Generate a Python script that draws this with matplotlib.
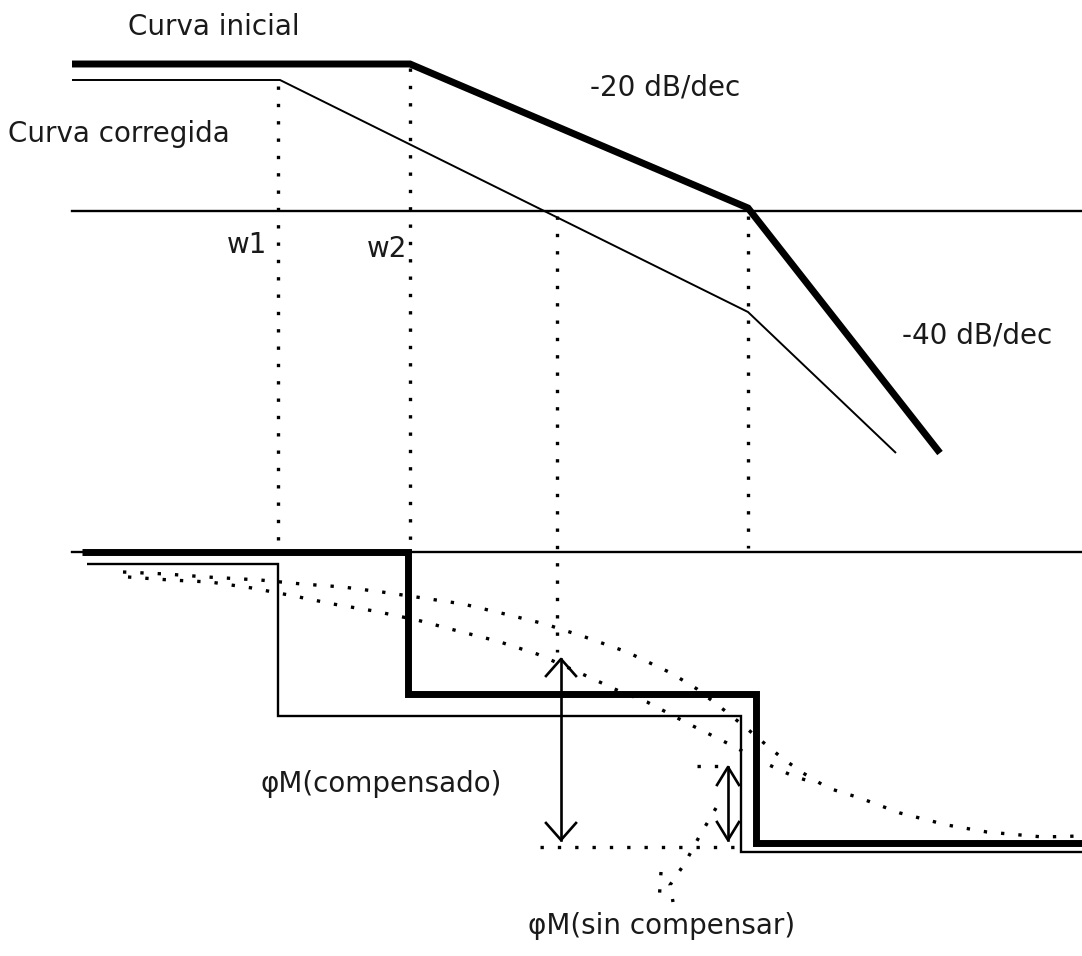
import matplotlib
matplotlib.use("Agg")
import matplotlib.pyplot as plt

# ---- diagram data (schematic coordinates: x to the right, y downward) ----
# Magnitude plot
mag_initial_x = [72, 410, 748, 940]
mag_initial_y = [64, 64, 208, 453]
mag_corrected_x = [72, 280, 748, 896]
mag_corrected_y = [80, 80, 312, 453]
zero_db_y = 211
x_left, x_right = 72, 1082

# frequency markers (dotted verticals): x, y_top, y_bottom
markers_x = [278, 410, 557, 748]
markers_top = [86, 68, 216, 216]
markers_bottom = [545, 548, 652, 548]

# Phase plot (asymptotic step curves)
phase_ref_y = 552
phase_initial_x = [82, 408, 408, 756, 756, 1082]
phase_initial_y = [552, 552, 694, 694, 843, 843]
phase_corrected_x = [87, 278, 278, 741, 741, 1082]
phase_corrected_y = [564, 564, 716, 716, 852, 852]

# Real phase curves (dotted)
phase_real_a_x = [123, 166, 207, 260, 302, 343, 382, 423, 463, 505, 545, 585,
                  627, 671, 697, 724, 745, 764, 782, 803, 828, 860, 900, 947,
                  987, 1043, 1080]
phase_real_a_y = [572, 574, 577, 580, 584, 587, 592, 598, 604, 614, 624, 637,
                  652, 673, 689, 710, 727, 743, 758, 773, 788, 798, 813, 825,
                  832, 837, 836]
phase_real_b_x = [128, 170, 210, 252, 294, 333, 374, 417, 458, 497, 537, 560,
                  591, 619, 647, 687, 727, 767, 793, 812]
phase_real_b_y = [577, 580, 582, 588, 596, 604, 611, 620, 631, 641, 654, 664,
                  678, 691, 702, 723, 743, 764, 776, 782]
phase_tail_x = [716, 699, 685, 670, 673]
phase_tail_y = [808, 837, 863, 885, 902]
phase_tail2_x = [661, 659]
phase_tail2_y = [872, 902]

# -180 reference (dotted) and marks
ref180_x = [540, 740]
ref180_y = 847
small_ref_x = [697, 722]
small_ref_y = 766

# margin arrows: x, y_top, y_bottom, half-width of head, head height
arrows_x = [561, 728]
arrows_top = [659, 767]
arrows_bottom = [840, 840]
arrows_hw = [15, 11]
arrows_hh = [17, 18]

labels = [
    ("Curva inicial", 128, 35),
    ("Curva corregida", 8, 142),
    ("-20 dB/dec", 590, 95),
    ("-40 dB/dec", 902, 343),
    ("w1", 227, 253),
    ("w2", 367, 257),
    ("\u03c6M(compensado)", 260, 792),
    ("\u03c6M(sin compensar)", 528, 934),
]

W, H = 1082, 956
fig = plt.figure(figsize=(W / 100, H / 100), dpi=100)
ax = fig.add_axes([0, 0, 1, 1])
ax.set_xlim(0, W)
ax.set_ylim(H, 0)
ax.axis("off")

thick = 5.0
thin = 1.7
thin_mag = 1.4
dot = dict(color="black", lw=2.4, linestyle=(0, (1, 4.2)),
           dash_capstyle="butt")

# magnitude
ax.plot([x_left, x_right], [zero_db_y, zero_db_y], color="black", lw=thin)
ax.plot(mag_initial_x, mag_initial_y, color="black", lw=thick,
        solid_joinstyle="miter", solid_capstyle="butt")
ax.plot(mag_corrected_x, mag_corrected_y, color="black", lw=thin_mag,
        solid_capstyle="butt")
for x, t, b in zip(markers_x, markers_top, markers_bottom):
    ax.plot([x, x], [t, b], **dot)

# phase
ax.plot([x_left, x_right], [phase_ref_y, phase_ref_y], color="black", lw=thin)
ax.plot(phase_initial_x, phase_initial_y, color="black", lw=thick,
        solid_joinstyle="miter", solid_capstyle="butt")
ax.plot(phase_corrected_x, phase_corrected_y, color="black", lw=thin,
        solid_joinstyle="miter", solid_capstyle="butt")
ax.plot(phase_real_a_x, phase_real_a_y, **dot)
ax.plot(phase_real_b_x, phase_real_b_y, **dot)
ax.plot(phase_tail_x, phase_tail_y, **dot)
ax.plot(phase_tail2_x, phase_tail2_y, **dot)
ax.plot(ref180_x, [ref180_y, ref180_y], **dot)
ax.plot(small_ref_x, [small_ref_y, small_ref_y], **dot)

for x, t, b, hw, hh in zip(arrows_x, arrows_top, arrows_bottom, arrows_hw, arrows_hh):
    ax.plot([x, x], [t, b], color="black", lw=1.9)
    ax.plot([x - hw, x, x + hw], [t + hh, t, t + hh], color="black", lw=1.9)
    ax.plot([x - hw, x, x + hw], [b - hh, b, b - hh], color="black", lw=1.9)

for s, x, y in labels:
    ax.text(x, y, s, fontsize=20, ha="left", va="baseline", color="#1a1a1a",
            family=["DejaVu Sans"])

fig.savefig("out.png", dpi=100, facecolor="white")
